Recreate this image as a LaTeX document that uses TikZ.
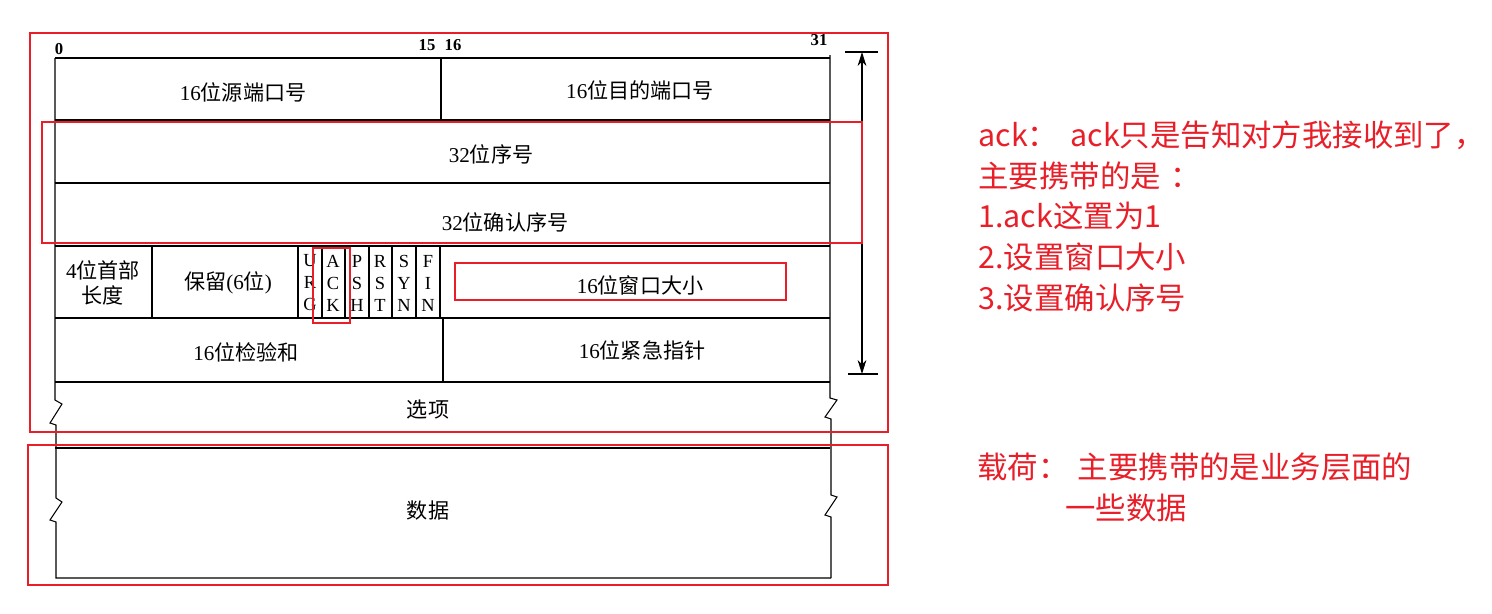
\documentclass[tikz,border=0pt]{standalone}
\usepackage{fontspec}
\setmainfont{Liberation Serif}
\newfontfamily\cjk{Noto Sans CJK SC}
\usetikzlibrary{arrows.meta}
\definecolor{notered}{RGB}{232,30,40}

\tikzset{
  cell/.style={font=\fontsize{12}{14}\selectfont, align=center, inner sep=0pt},
  flag/.style={font=\fontsize{10.5}{12.5}\selectfont, align=center, inner sep=0pt},
  bitno/.style={font=\bfseries\fontsize{9.5}{10}\selectfont, inner sep=0pt},
  hilite/.style={draw=notered, line width=1.1pt},
  note/.style={text=notered, font=\cjk\fontsize{17.3}{23.2}\selectfont, align=left, inner sep=0pt},
}

\begin{document}
\begin{tikzpicture}[x=0.02cm, y=-0.02cm, >={Stealth[length=8pt,width=5pt]}, line width=0.6pt]
\useasboundingbox (0,0) rectangle (1492,613);

% bit numbers
\node[bitno] (b0) at (59,49) {0};
\node[bitno] (b15) at (427,45) {15};
\node[bitno] (b16) at (453,45) {16};
\node[bitno] (b31) at (819,40) {31};

% header frame
\draw (55,58) -- (55,400) -- (62,404) -- (50,423) -- (56,425) -- (56,498) -- (62,502) -- (50,520) -- (56,522) -- (56,578) -- (831,578);
\draw (830,55) -- (830,398) -- (837,400) -- (825,417) -- (831,419) -- (831,495) -- (837,497) -- (825,515) -- (831,517) -- (831,578);
\foreach \y in {58,120,183,246,318,382,448}
  \draw (55,\y) -- (830,\y);
\draw (441,58) -- (441,120);
\foreach \x in {152,298,322,345,369,392,416,440}
  \draw (\x,246) -- (\x,318);
\draw (443,318) -- (443,382);

% field texts
\node[cell] (srcport) at (243,92) {16{\cjk 位源端口号}};
\node[cell] (dstport) at (640,90) {16{\cjk 位目的端口号}};
\node[cell] (seqno) at (491,154) {32{\cjk 位序号}};
\node[cell] (ackno) at (505,222) {32{\cjk 位确认序号}};
\node[cell] (hdrlen) at (103,283) {4{\cjk 位首部}\\{\cjk 长度}};
\node[cell] (rsvd) at (228,283) {{\cjk 保留}(6{\cjk 位})};
\node[flag] (urg) at (310,283) {U\\R\\G};
\node[flag] (ackf) at (333,283) {A\\C\\K};
\node[flag] (psh) at (357,283) {P\\S\\H};
\node[flag] (rst) at (380,283) {R\\S\\T};
\node[flag] (syn) at (404,283) {S\\Y\\N};
\node[flag] (fin) at (428,283) {F\\I\\N};
\node[cell] (window) at (640,285) {16{\cjk 位窗口大小}};
\node[cell] (chksum) at (246,352) {16{\cjk 位检验和}};
\node[cell] (urgptr) at (642,350) {16{\cjk 位紧急指针}};
\node[cell] (options) at (428,410) {{\cjk 选项}};
\node[cell] (payload) at (428,510) {{\cjk 数据}};

% header length arrow
\coordinate (hdtop) at (862,52);
\coordinate (hdbot) at (862,374);
\draw (845,52) -- (878,52);
\draw (848,374) -- (878,374);
\draw[<->] (hdtop) -- (hdbot);

% red marks
\draw[hilite] (30,33) rectangle (888,432);
\draw[hilite] (42,122) rectangle (862,243);
\draw[hilite] (313,248) rectangle (350,323);
\draw[hilite] (455,263) rectangle (786,300);
\draw[hilite] (28,445) rectangle (888,585);

% notes
\node[note, anchor=north west] (acknote) at (978,120)
  {ack：\hspace{0.4em}ack只是告知对方我接收到了，\\主要携带的是\hspace{0.3em}：\\1.ack这置为1\\2.设置窗口大小\\3.设置确认序号};
\node[note, anchor=west] (loadnote) at (977,467) {载荷：\hspace{0.3em}主要携带的是业务层面的};
\node[note, anchor=west] (loadnote2) at (1065,508) {一些数据};
\end{tikzpicture}
\end{document}
